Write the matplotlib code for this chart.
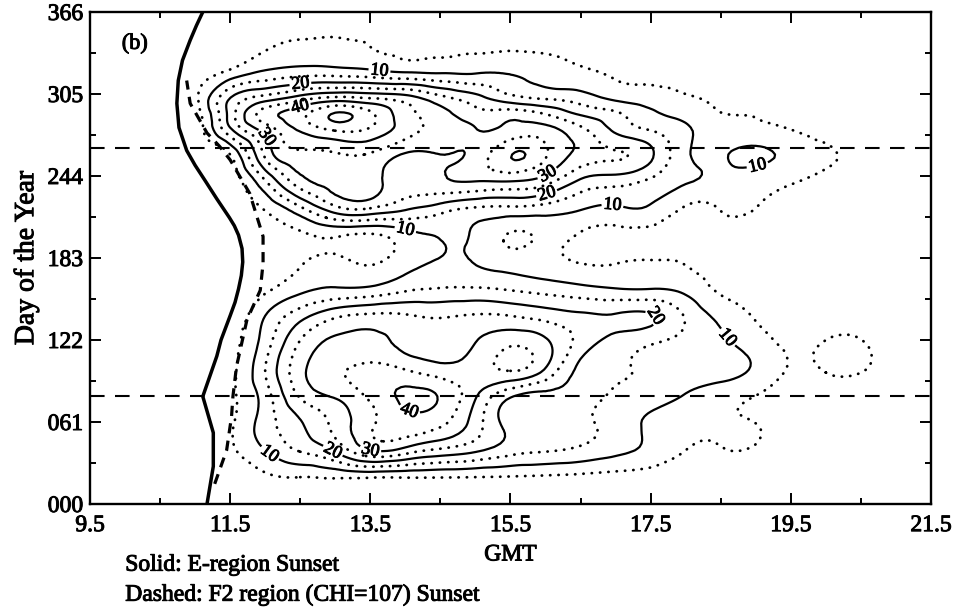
import numpy as np
import matplotlib
matplotlib.use("Agg")
import matplotlib.pyplot as plt
import matplotlib.tri as mtri
import matplotlib.patheffects as pe

plt.rcParams['font.family'] = ['Liberation Serif', 'DejaVu Serif']

# grid of occurrence (%) : columns are GMT hours, rows are day of year
gmt = [9.5, 10.0, 10.5, 11.0, 11.5, 12.0, 12.5, 13.0, 13.5, 14.0, 14.5, 15.0, 15.5,
       16.0, 16.5, 17.0, 17.5, 18.0, 18.5, 19.0, 19.5, 20.0, 20.5, 21.0, 21.5]
days = [0, 20, 40, 60, 80, 100, 120, 140, 160, 180, 200, 220, 240, 260, 280, 290, 300, 320, 340, 366]
occurrence = [
    # 11.0 onwards (9.5-10.5 are empty)
    [0, 0, 0.5, 1.5, 2, 2, 2, 2, 2, 1.5, 1.5, 1, 1, 0.5, 0.5, 0.5, 0, 0, 0, 0, 0, 0],
    [0, 1, 4, 5, 5.5, 5.4, 5.3, 5.2, 5, 4.7, 4.3, 3.8, 3.2, 2.6, 2.2, 2.5, 1.5, 0.5, 0, 0, 0, 0],
    [0, 4, 10, 15.5, 21, 30, 28, 24, 21, 17, 15.5, 14, 11.5, 8.5, 5, 4.8, 4.5, 2, 0.5, 0, 0, 0],
    [0, 4.2, 12.5, 19.5, 26.5, 34, 38, 36, 27.5, 18, 16.5, 16, 13, 9, 6.5, 5.4, 5, 2.5, 1, 0, 0, 0],
    [0, 4, 12.5, 25.5, 30.5, 36, 41, 39.5, 30.5, 20.5, 18, 17.5, 14, 12.5, 9.5, 7, 4.9, 3, 2, 1.5, 0, 0],
    [0, 3.5, 15, 28.5, 34, 36.5, 35, 32, 32.5, 35.5, 29.5, 18.5, 15.5, 14, 12.5, 11.8, 9, 4.6, 5.3, 5.4, 2, 0],
    [0, 3, 12.5, 25.5, 31, 31.5, 28.5, 27, 30, 34, 31, 23, 18, 15.5, 13.5, 11, 7.5, 4, 5.3, 5.4, 1.5, 0],
    [0, 1, 10, 18, 24, 26, 25.5, 24.5, 25.5, 25, 23, 21, 20.5, 20.5, 14.5, 8.5, 4.5, 2, 2.5, 2, 0.5, 0],
    [0, 1, 4, 8.5, 10.5, 11, 14, 15.3, 15.5, 14.5, 13, 11.5, 10.2, 10, 8.5, 4.2, 3, 2, 1.5, 1, 0.3, 0],
    [0, 1, 2.5, 4.5, 6.2, 4.4, 8.0, 10.3, 9.8, 7.5, 6.5, 4.8, 4.8, 5.2, 4.8, 3.5, 2.5, 1.5, 1, 0.5, 0, 0],
    [0, 1.5, 3, 4.3, 5.6, 4.3, 8.0, 10.3, 9.3, 4.6, 6, 4.5, 3.5, 3.5, 3.5, 4, 3, 1.5, 0.5, 0, 0, 0],
    [0, 1.5, 5.5, 14, 23.5, 25, 21, 17.5, 14.5, 14, 13, 10.5, 9.3, 9.3, 4.5, 5.2, 5, 3, 1.5, 0.5, 0, 0],
    [0, 2, 14.5, 28, 32, 32, 27, 29, 30, 30, 27, 19, 17, 14, 10.5, 8.5, 7, 5.5, 3, 1.5, 0.5, 0],
    [0, 5, 26, 34, 34.5, 34.5, 29.5, 30, 31.5, 39.8, 35.5, 28.5, 25.5, 21, 11, 9.3, 11, 8.5, 6, 3, 1, 0],
    [2, 20, 33, 41.5, 47, 45, 37.5, 33.5, 30, 31, 31, 25.5, 18.5, 14, 10.5, 7.5, 6, 4.8, 3, 1, 0, 0],
    [2.5, 22, 37.5, 43.5, 50.5, 46, 37, 32, 27, 28, 25, 19.5, 16, 11, 8.5, 5.2, 4.8, 4, 2.5, 1, 0, 0],
    [3.5, 21, 29.5, 35, 39.5, 37.5, 34, 28, 23, 18.5, 16, 13.5, 10, 8, 6, 4.5, 4, 2.5, 1.5, 0.5, 0, 0],
    [2, 7, 11.5, 13.5, 13.5, 12.5, 11, 10.3, 10.1, 9.9, 8, 6, 4.6, 4, 3.5, 3, 2.5, 2, 1, 0, 0, 0],
    [0, 1, 4.5, 5.7, 5.6, 5.0, 4.5, 4.3, 4.3, 4.2, 3.8, 3.0, 2.5, 2, 1.5, 1, 0.5, 0, 0, 0, 0, 0],
    [0, 0, 0.5, 1.5, 2, 2, 1.5, 1, 1, 0.5, 0.5, 0, 0, 0, 0, 0, 0, 0, 0, 0, 0, 0],
]

# sunset terminators (GMT, day)
e_day = [0, 28, 53, 80, 110, 122, 140, 150, 160, 170, 180, 190, 200, 207, 213, 227, 240,
         252, 263, 280, 298, 315, 330, 345, 356, 366]
e_gmt = [11.17, 11.26, 11.26, 11.11, 11.31, 11.37, 11.5, 11.57, 11.62, 11.66, 11.68, 11.67,
         11.62, 11.56, 11.49, 11.31, 11.15, 11.0, 10.88, 10.77, 10.74, 10.76, 10.82, 10.93,
         11.02, 11.11]
f2_day = [15, 40, 65, 80, 102, 137, 159, 179, 199, 231, 256, 266, 276, 298, 315]
f2_gmt = [11.28, 11.45, 11.52, 11.54, 11.59, 11.74, 11.93, 11.97, 11.97, 11.78, 11.5, 11.35,
          11.17, 10.93, 10.88]

equinox_days = [80, 265]

solid_levels = [10, 20, 30, 40, 50]
dotted_levels = [5, 15, 25, 35, 45]
label_spots = [(13.64, 327), (12.5, 314), (12.5, 295), (12.02, 273), (16.96, 224), (16.0, 234),
               (16.0, 248), (14.0, 204), (19.0, 258), (17.6, 142), (18.56, 122), (14.06, 70),
               (13.5, 40), (12.97, 40), (12.07, 38)]

# full grid, padding the empty early columns
z = np.array([[0, 0, 0] + row for row in occurrence], dtype=float)
gx, gy = np.meshgrid(np.array(gmt), np.array(days, dtype=float))

# triangulate the grid explicitly and refine it with a cubic interpolator
ny, nx = z.shape
idx = np.arange(nx * ny).reshape(ny, nx)
tris = []
for j in range(ny - 1):
    for i in range(nx - 1):
        a, b, c, d = idx[j, i], idx[j, i + 1], idx[j + 1, i], idx[j + 1, i + 1]
        tris.append([a, b, d])
        tris.append([a, d, c])
yscale = 30.0
tri = mtri.Triangulation(gx.ravel(), gy.ravel() / yscale, np.array(tris))
refiner = mtri.UniformTriRefiner(tri)
tri_f, z_f = refiner.refine_field(z.ravel(), subdiv=3)
tri_f = mtri.Triangulation(tri_f.x, tri_f.y * yscale, tri_f.triangles)

ink = [pe.withStroke(linewidth=0.7, foreground='k')]

fig = plt.figure(figsize=(9.56, 6.11), dpi=100)
ax = fig.add_axes([0.0941, 0.1751, 0.8797, 0.8053])

cs = ax.tricontour(tri_f, z_f, levels=solid_levels, colors='k', linewidths=1.6)
dots = ax.tricontour(tri_f, z_f, levels=dotted_levels, colors='k', linewidths=2.0,
                     linestyles=[(0, (0.1, 2.9))])
dots.set_capstyle('round')
labels = ax.clabel(cs, fmt='%d', fontsize=13, inline=True, inline_spacing=2, manual=label_spots)
for t in labels:
    t.set_path_effects(ink)

ax.plot(e_gmt, e_day, color='k', lw=2.5, solid_capstyle='round', solid_joinstyle='round')
ax.plot(f2_gmt, f2_day, color='k', lw=2.3, linestyle=(0, (3.2, 2.3)))
for d in equinox_days:
    ax.axhline(d, color='k', lw=1.5, linestyle=(0, (7, 5)))

ax.set_xlim(9.5, 21.5)
ax.set_ylim(0, 366)
ax.set_xticks([9.5, 11.5, 13.5, 15.5, 17.5, 19.5, 21.5])
ax.set_xticklabels(['9.5', '11.5', '13.5', '15.5', '17.5', '19.5', '21.5'])
ax.set_xticks([10.5, 12.5, 14.5, 16.5, 18.5, 20.5], minor=True)
ax.set_yticks([0, 61, 122, 183, 244, 305, 366])
ax.set_yticklabels(['000', '061', '122', '183', '244', '305', '366'])
ax.set_yticks([30.5, 91.5, 152.5, 213.5, 274.5, 335.5], minor=True)
ax.tick_params(which='both', direction='in', top=True, right=True, labelsize=17, width=1.4)
ax.tick_params(which='major', length=8)
ax.tick_params(which='minor', length=4)
ax.tick_params(axis='x', pad=8)
ax.tick_params(axis='y', pad=5)
for t in ax.get_xticklabels() + ax.get_yticklabels():
    t.set_path_effects(ink)
for sp in ax.spines.values():
    sp.set_linewidth(1.7)

ax.set_xlabel('GMT', fontsize=17, labelpad=6, path_effects=ink)
ax.set_ylabel('Day of the Year', fontsize=20, labelpad=6, path_effects=ink)
ax.text(10.14, 342, '(b)', fontsize=16, ha='center', va='center', path_effects=ink)

fig.text(0.131, 0.075, 'Solid: E-region Sunset', fontsize=17, va='center', path_effects=ink)
fig.text(0.131, 0.026, 'Dashed: F2 region (CHI=107) Sunset', fontsize=17, va='center',
         path_effects=ink)

fig.savefig('out.png', dpi=100)
